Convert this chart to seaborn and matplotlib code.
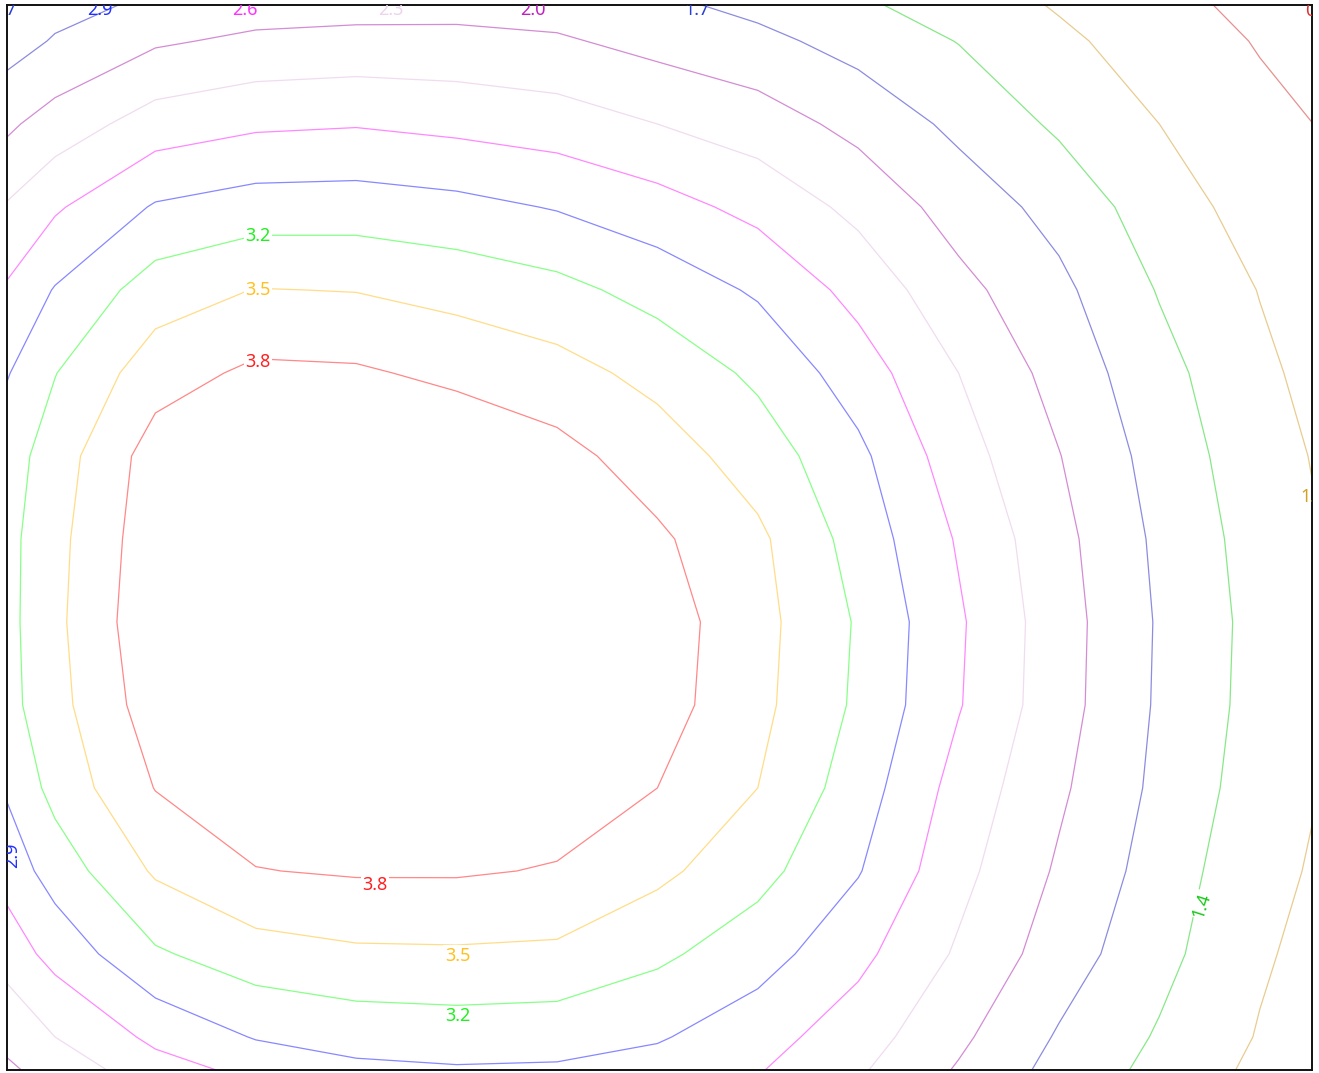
import numpy as np
import matplotlib
matplotlib.use("Agg")
import matplotlib.pyplot as plt
import seaborn as sns

# Grid node coordinates (column / row indices; the outer ring extends past the visible frame)
x_nodes = np.arange(-1, 14)
y_nodes = np.arange(-1, 14)

# Field values, one list per grid row (top to bottom), columns left to right
row_m1 = [0.96, 1.50, 1.55, 1.61, 1.63, 1.64, 1.64, 1.57, 1.41, 1.27, 1.15, 0.96, 0.81, 0.68, 0.55]
row_0 = [1.47, 1.72, 1.96, 2.06, 2.09, 2.09, 2.04, 1.90, 1.78, 1.59, 1.39, 1.16, 0.96, 0.78, 0.63]
row_1 = [1.75, 2.13, 2.44, 2.55, 2.58, 2.52, 2.45, 2.30, 2.15, 1.91, 1.63, 1.35, 1.10, 0.88, 0.73]
row_2 = [2.08, 2.56, 2.93, 3.04, 3.05, 2.99, 2.88, 2.72, 2.51, 2.22, 1.87, 1.60, 1.24, 0.98, 0.79]
row_3 = [2.34, 2.92, 3.35, 3.51, 3.49, 3.40, 3.29, 3.09, 2.86, 2.50, 2.09, 1.77, 1.38, 1.09, 0.84]
row_4 = [2.54, 3.19, 3.67, 3.86, 3.84, 3.73, 3.61, 3.41, 3.14, 2.75, 2.30, 1.89, 1.50, 1.16, 0.91]
row_5 = [2.75, 3.35, 3.94, 3.98, 4.03, 4.05, 3.90, 3.65, 3.36, 2.97, 2.43, 2.01, 1.58, 1.22, 0.97]
row_6 = [2.79, 3.41, 3.99, 4.04, 4.07, 4.07, 4.00, 3.85, 3.56, 3.08, 2.57, 2.09, 1.64, 1.27, 1.00]
row_7 = [2.77, 3.43, 4.03, 4.06, 4.08, 4.08, 4.03, 3.95, 3.60, 3.17, 2.64, 2.13, 1.67, 1.30, 1.03]
row_8 = [2.78, 3.40, 3.96, 4.04, 4.07, 4.07, 4.02, 3.93, 3.58, 3.15, 2.62, 2.12, 1.66, 1.29, 1.02]
row_9 = [2.55, 3.30, 3.81, 3.98, 4.03, 4.03, 3.95, 3.80, 3.50, 3.05, 2.49, 2.05, 1.63, 1.25, 1.00]
row_10 = [2.40, 3.03, 3.54, 3.79, 3.83, 3.83, 3.78, 3.57, 3.30, 2.92, 2.39, 1.96, 1.57, 1.18, 0.99]
row_11 = [2.16, 2.70, 3.16, 3.37, 3.45, 3.46, 3.44, 3.26, 3.03, 2.68, 2.26, 1.85, 1.49, 1.14, 0.91]
row_12 = [1.88, 2.30, 2.67, 2.92, 3.01, 3.04, 3.02, 2.93, 2.72, 2.44, 2.06, 1.67, 1.37, 1.08, 0.85]
row_13 = [1.69, 1.90, 2.19, 2.35, 2.58, 2.62, 2.62, 2.55, 2.47, 2.19, 1.84, 1.52, 1.22, 0.98, 0.75]

# Contour levels with line and label colours
levels = [0.8, 1.1, 1.4, 1.7, 2.0, 2.3, 2.6, 2.9, 3.2, 3.5, 3.8]
line_colors = ["#e89090", "#e8cc90", "#88e888", "#8c8ce0", "#d48cd4", "#f0dcf0",
               "#ff88ff", "#8888ff", "#88ff88", "#ffdd88", "#ff8888"]
label_colors = ["#e03030", "#d4a020", "#18c818", "#2840d0", "#c020c0", "#ecd4ec",
                "#ff30ff", "#2030ff", "#20f020", "#ffc020", "#ff2020"]

# Label texts and where they sit (grid units)
inner_labels = ["3.2", "3.5", "3.8", "3.8", "3.5", "3.2", "1.4"]
inner_x = [2.02, 2.02, 2.02, 3.19, 4.01, 4.01, 11.42]
inner_y = [2.35, 3.00, 3.87, 10.17, 11.02, 11.75, 10.41]
inner_rot = [0, 0, 0, 0, 0, 0, 72]

edge_labels = ["1.7", "2.9", "2.6", "2.3", "2.0", "1.7", "0.8", "1.1", "2.9"]
edge_x = [-0.51, 0.45, 1.89, 3.34, 4.76, 6.39, 12.58, 12.53, -0.43]
edge_y = [-0.37, -0.37, -0.37, -0.37, -0.37, -0.37, -0.36, 5.49, 9.81]
edge_rot = [0, 0, 0, 0, 0, 0, 0, 0, 90]

Z = np.array([row_m1, row_0, row_1, row_2, row_3, row_4, row_5, row_6, row_7,
              row_8, row_9, row_10, row_11, row_12, row_13])

sns.set_theme(style="white")
plt.rcParams["font.family"] = ["Noto Sans", "DejaVu Sans"]

W, H = 1319, 1073
fig = plt.figure(figsize=(W / 100, H / 100), dpi=100)
fig.patch.set_facecolor("white")
ax = fig.add_axes([7 / W, 3 / H, 1305 / W, 1065 / H])
ax.set_facecolor("white")

ax.contour(x_nodes, y_nodes, Z, levels=levels, colors=line_colors, linewidths=0.9)

ax.set_xlim(-0.478, 12.52)
ax.set_ylim(12.398, -0.434)
ax.set_xticks([])
ax.set_yticks([])
for side, sp in ax.spines.items():
    sp.set_visible(True)
    sp.set_color("#111111")
    sp.set_linewidth(1.4)

lvl_color = dict(zip([f"{v:.1f}" for v in levels], label_colors))

for txt, lx, ly, rot in zip(inner_labels, inner_x, inner_y, inner_rot):
    ax.text(lx, ly, txt, color=lvl_color[txt], fontsize=13, rotation=rot,
            ha="center", va="center", rotation_mode="anchor",
            bbox=dict(boxstyle="square,pad=0.08", fc="white", ec="none"), zorder=5)

# Labels at the frame edge are clipped by the axes, as the contour ends run off the frame
for txt, lx, ly, rot in zip(edge_labels, edge_x, edge_y, edge_rot):
    ax.text(lx, ly, txt, color=lvl_color[txt], fontsize=13, rotation=rot,
            ha="center", va="center", rotation_mode="anchor", clip_on=True, zorder=5)

fig.savefig("out.png", dpi=100, facecolor="white")
